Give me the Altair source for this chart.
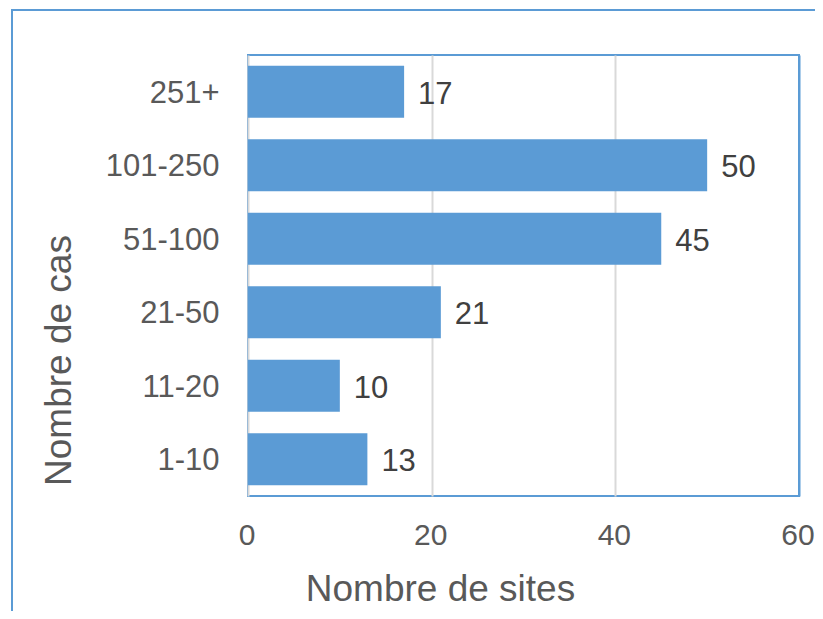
import altair as alt
import pandas as pd

categories = ["251+", "101-250", "51-100", "21-50", "11-20", "1-10"]
sites = [17, 50, 45, 21, 10, 13]
x_ticks = [0, 20, 40, 60]

df = pd.DataFrame({"cas": categories, "sites": sites})

BLUE = "#5B9BD5"
FONT = "Liberation Sans"

x_enc = alt.X(
    "sites:Q",
    scale=alt.Scale(domain=[0, 60], nice=False, zero=True),
    axis=alt.Axis(
        values=x_ticks,
        grid=True,
        gridColor={"condition": {"test": "datum.value === 60", "value": BLUE}, "value": "#D9D9D9"},
        gridWidth=2,
        domain=False,
        ticks=False,
        tickSize=0,
        labelFlush=False,
        labelOverlap=False,
        labelFontSize=30,
        labelColor="#595959",
        labelFont=FONT,
        labelPadding=24,
        labelOffset=-1.5,
        labelBaseline="top",
        title="Nombre de sites",
        titleFont=FONT,
        titleFontSize=37,
        titleFontWeight="normal",
        titleColor="#595959",
        titleX=192,
        titleY=104,
        titleBaseline="alphabetic",
        titleAlign="center",
    ),
)

y_enc = alt.Y(
    "cas:N",
    sort=categories,
    scale=alt.Scale(paddingInner=0.2925, paddingOuter=0.146),
    axis=alt.Axis(
        grid=False,
        domain=False,
        ticks=False,
        tickSize=0,
        labelFontSize=31,
        labelColor="#595959",
        labelFont=FONT,
        labelPadding=29,
        labelOffset=2,
        labelAlign="right",
        labelBaseline="middle",
        title="Nombre de cas",
        titleFont=FONT,
        titleFontSize=37,
        titleFontWeight="normal",
        titleColor="#595959",
        titleAngle=270,
        titleX=-178,
        titleY=305,
        titleBaseline="alphabetic",
        titleAlign="center",
    ),
)

frame = alt.Chart(pd.DataFrame({"f": [0]})).mark_rect(
    fillOpacity=0, stroke=BLUE, strokeWidth=2, clip=False
).encode(
    x=alt.value(-236), x2=alt.value(700), y=alt.value(-45), y2=alt.value(700)
)

base = alt.Chart(df)
bars = base.mark_bar(color=BLUE).encode(x=x_enc, y=y_enc)
labels = base.mark_text(
    align="left", baseline="middle", dx=14, dy=3, fontSize=31, font=FONT, color="#404040"
).encode(x="sites:Q", y=alt.Y("cas:N", sort=categories), text="sites:Q")

chart = alt.layer(frame, bars, labels).properties(
    width=551,
    height=441,
    autosize=alt.AutoSizeParams(type="none"),
    padding={"left": 240, "top": 47, "right": 16, "bottom": 115},
    background="white",
).configure_view(stroke=BLUE, strokeWidth=2)

chart.save("out.html", embed_options={"renderer": "svg", "actions": False})
